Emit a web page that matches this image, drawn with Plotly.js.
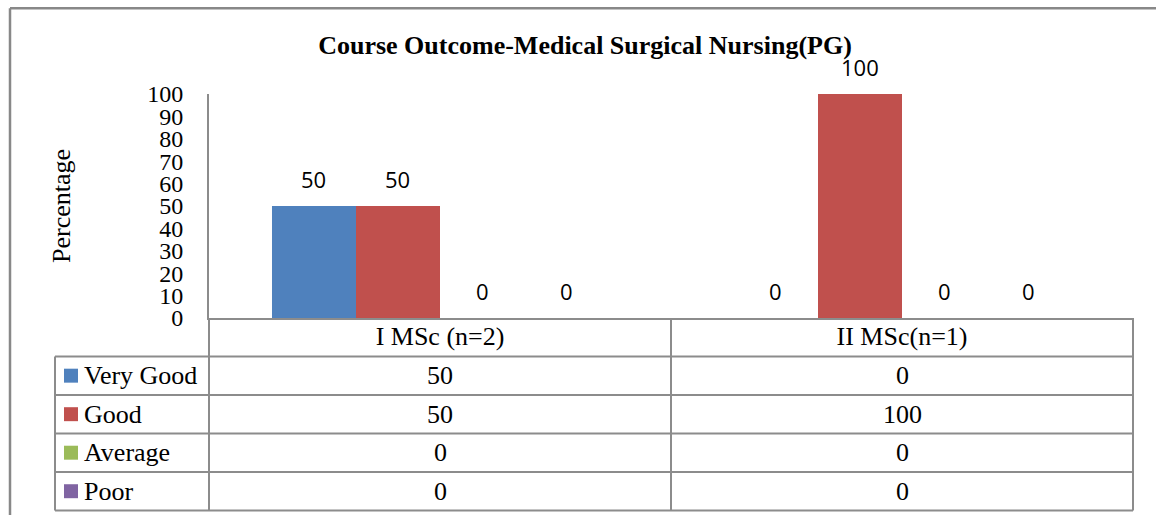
<!DOCTYPE html>
<html>
<head>
<meta charset="utf-8">
<script src="https://cdn.plot.ly/plotly-3.0.1.min.js"></script>
<style>html,body{margin:0;padding:0;background:#fff;}#chart{width:1156px;height:515px;}</style>
</head>
<body>
<div id="chart"></div>
<script>
// ---- data ----
const categories = ['I MSc (n=2)', 'II MSc(n=1)'];
const seriesNames = ['Very Good', 'Good', 'Average', 'Poor'];
const veryGood = [50, 0];
const good = [50, 100];
const average = [0, 0];
const poor = [0, 0];
const yTickVals = [0, 10, 20, 30, 40, 50, 60, 70, 80, 90, 100];
const titleText = 'Course Outcome-Medical Surgical Nursing(PG)';
const yTitle = 'Percentage';

// ---- style ----
const seriesValues = [veryGood, good, average, poor];
const colors = ['#4F81BD', '#C0504D', '#9BBB59', '#8064A2'];
const W = 1156, H = 515;
const plotL = 209, plotR = 1133, plotT = 94, plotB = 318.5;
const plotW = plotR - plotL, plotH = plotB - plotT;
const serif = '"Liberation Serif", "Times New Roman", serif';
const sans = '"Open Sans", "Liberation Sans", sans-serif';
const lineCol = '#8c8c8c';
const bargap = 0.2727;
const px = X => (X - plotL) / plotW;
const py = Y => (plotB - Y) / plotH;

const barW = plotW / categories.length * (1 - bargap) / seriesNames.length;

const traces = seriesNames.map((name, k) => ({
  type: 'bar',
  name: name,
  x: categories,
  y: seriesValues[k],
  marker: {color: colors[k]},
  hoverinfo: 'x+y+name'
}));

const annotations = [];
// data labels above bars
seriesNames.forEach((name, k) => {
  seriesValues[k].forEach((v, i) => {
    annotations.push({
      x: categories[i], xref: 'x', y: v, yref: 'y',
      text: String(v), showarrow: false,
      xshift: (k - (seriesNames.length - 1) / 2) * barW,
      yanchor: 'middle', yshift: 27,
      font: {family: sans, size: 22, color: '#000'}
    });
  });
});

// table geometry
const headerBottom = 357;
const rowH = 38.6;
const tableLeft = 55;
const tableBottom = headerBottom + rowH * seriesNames.length;
const shapes = [];
// outer border
shapes.push({type: 'line', xref: 'paper', yref: 'paper', x0: px(10), x1: px(W + 5), y0: py(8), y1: py(8), line: {color: '#888', width: 2.5}});
shapes.push({type: 'line', xref: 'paper', yref: 'paper', x0: px(10), x1: px(10), y0: py(8), y1: py(H + 5), line: {color: '#888', width: 2.5}});
// horizontal table lines
for (let r = 0; r <= seriesNames.length; r++) {
  const Y = headerBottom + r * rowH;
  shapes.push({type: 'line', xref: 'paper', yref: 'paper', x0: px(tableLeft), x1: px(plotR), y0: py(Y), y1: py(Y), line: {color: lineCol, width: 2}});
}
// vertical lines
shapes.push({type: 'line', xref: 'paper', yref: 'paper', x0: px(tableLeft), x1: px(tableLeft), y0: py(headerBottom), y1: py(tableBottom), line: {color: lineCol, width: 2}});
shapes.push({type: 'line', xref: 'paper', yref: 'paper', x0: 0, x1: 0, y0: py(plotB), y1: py(tableBottom), line: {color: lineCol, width: 2}});
for (let c = 1; c <= categories.length; c++) {
  const X = plotL + c * plotW / categories.length;
  shapes.push({type: 'line', xref: 'paper', yref: 'paper', x0: px(X), x1: px(X), y0: py(plotB), y1: py(tableBottom), line: {color: lineCol, width: 2}});
}
// legend keys and row labels and values
seriesNames.forEach((name, k) => {
  const cy = headerBottom + (k + 0.5) * rowH;
  shapes.push({type: 'rect', xref: 'paper', yref: 'paper', x0: px(64), x1: px(78), y0: py(cy - 7), y1: py(cy + 7), fillcolor: colors[k], line: {width: 0}});
  annotations.push({x: px(82), xref: 'paper', y: py(cy), yref: 'paper', text: name, showarrow: false, xanchor: 'left', yanchor: 'middle', font: {family: serif, size: 26, color: '#000'}});
  seriesValues[k].forEach((v, i) => {
    annotations.push({x: categories[i], xref: 'x', y: py(cy), yref: 'paper', text: String(v), showarrow: false, xanchor: 'center', yanchor: 'middle', font: {family: serif, size: 26, color: '#000'}});
  });
});
// y axis title
annotations.push({x: px(61), xref: 'paper', y: 0.5, yref: 'paper', text: yTitle, textangle: -90, showarrow: false, xanchor: 'center', yanchor: 'middle', font: {family: serif, size: 26, color: '#000'}});

const layout = {
  width: W, height: H,
  margin: {l: plotL, r: W - plotR, t: plotT, b: H - plotB, pad: 0},
  paper_bgcolor: '#fff', plot_bgcolor: '#fff',
  showlegend: false,
  barmode: 'group', bargap: bargap, bargroupgap: 0,
  title: {text: '<b>' + titleText + '</b>', x: 585 / W, xref: 'container', xanchor: 'center', y: 1 - 45 / H, yref: 'container', yanchor: 'middle', font: {family: serif, size: 26, color: '#000'}},
  xaxis: {
    type: 'category', showgrid: false, zeroline: false,
    showline: true, linecolor: lineCol, linewidth: 2,
    ticks: '', ticklabelstandoff: -6,
    tickfont: {family: serif, size: 26, color: '#000'}, fixedrange: true
  },
  yaxis: {
    range: [0, 100], tickvals: yTickVals, ticktext: yTickVals.map(String),
    showgrid: false, zeroline: false,
    showline: true, linecolor: lineCol, linewidth: 2,
    ticks: 'outside', ticklen: 19, tickcolor: 'rgba(0,0,0,0)',
    tickfont: {family: serif, size: 24, color: '#000'}, fixedrange: true
  },
  shapes: shapes,
  annotations: annotations
};

Plotly.newPlot('chart', traces, layout, {displayModeBar: false, staticPlot: true});
</script>
</body>
</html>
